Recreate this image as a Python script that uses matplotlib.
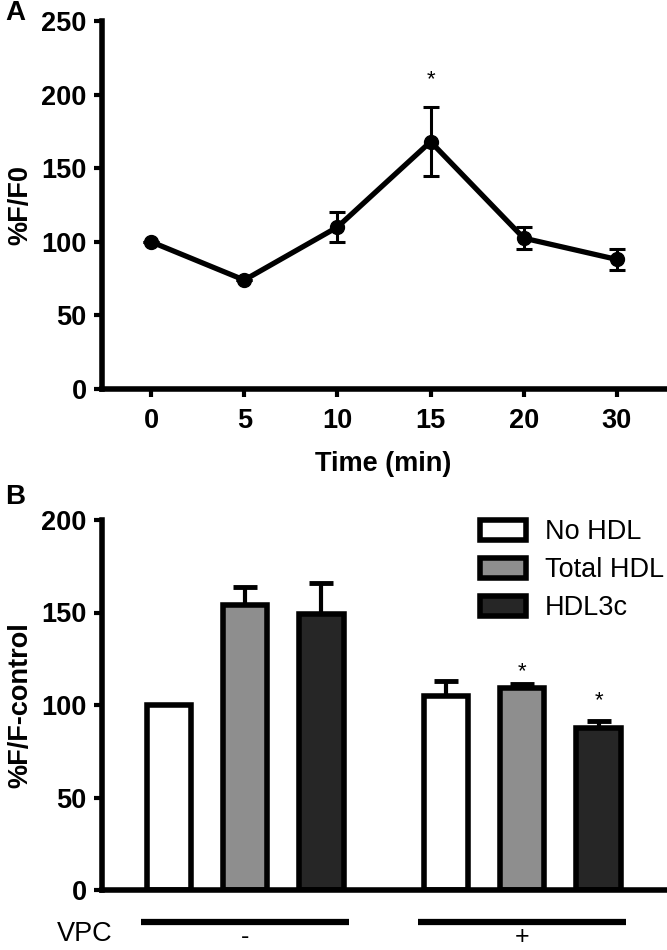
import numpy as np
import matplotlib
matplotlib.use('Agg')
import matplotlib.pyplot as plt
import matplotlib.transforms as mtransforms

plt.rcParams['font.family'] = ['Liberation Sans', 'DejaVu Sans']

# panel A data
TIME_LABELS = ['0', '5', '10', '15', '20', '30']
PCT_F_F0 = [100, 74, 110, 168, 102.5, 88]
PCT_F_F0_ERR = [0, 0, 10, 23.5, 7.5, 7]
STAR_A = [(3, 210)]

# panel B data
GROUPS = ['-', '+']
CONDITIONS = ['No HDL', 'Total HDL', 'HDL3c']
COND_COLORS = ['white', '#8e8e8e', '#262626']
PCT_F_CTRL = {
    'No HDL':    [100, 105],
    'Total HDL': [154, 109],
    'HDL3c':     [149, 87.5],
}
PCT_F_CTRL_ERR = {
    'No HDL':    [0, 8],
    'Total HDL': [9.6, 2.4],
    'HDL3c':     [17, 3.9],
}
STARS_B = [(1, 'Total HDL', 118), (1, 'HDL3c', 102.5)]

W, H = 667, 950
fig = plt.figure(figsize=(W / 100, H / 100), dpi=100)

SPINE_LW = 4.0
FS = 19.5


def style_axes(ax):
    for s in ['top', 'right']:
        ax.spines[s].set_visible(False)
    for s in ['left', 'bottom']:
        ax.spines[s].set_linewidth(SPINE_LW)
    ax.tick_params(width=3, length=6, labelsize=FS, pad=5)
    for lab in ax.get_yticklabels() + ax.get_xticklabels():
        lab.set_fontweight('bold')


# ---------- panel A ----------
axA = fig.add_axes([102 / W, 1 - 389 / H, 563 / W, (389 - 21) / H])
x = np.arange(len(TIME_LABELS))
axA.errorbar(x, PCT_F_F0, yerr=PCT_F_F0_ERR, color='black', lw=3.8,
             marker='o', ms=10, elinewidth=2.2, capsize=5.8, capthick=2.2,
             clip_on=False, zorder=3)
axA.set_xlim(-0.527, 5.516)
axA.set_ylim(0, 250)
axA.set_yticks([0, 50, 100, 150, 200, 250])
axA.set_xticks(x)
axA.set_xticklabels(TIME_LABELS)
style_axes(axA)
axA.tick_params(axis='x', pad=8)
axA.set_xlabel('Time (min)', fontsize=FS, fontweight='bold', labelpad=12)
axA.set_ylabel('%F/F0', fontsize=FS, fontweight='bold', labelpad=6)
for xi, yv in STAR_A:
    axA.text(xi, yv, '*', ha='center', va='center', fontsize=16)

# ---------- panel B ----------
axB = fig.add_axes([102 / W, 1 - 890 / H, 563 / W, 370 / H])
group_pos = np.array([0, 3.63])
offsets = [-1, 0, 1]
bar_w = 0.58
handles = []
for k, cond in enumerate(CONDITIONS):
    xs = group_pos + offsets[k]
    vals = PCT_F_CTRL[cond]
    errs = PCT_F_CTRL_ERR[cond]
    b = axB.bar(xs, vals, width=bar_w, color=COND_COLORS[k], edgecolor='black',
                linewidth=4, label=cond, zorder=2)
    handles.append(b)
    axB.errorbar(xs, vals, yerr=[np.zeros(len(errs)), errs], fmt='none',
                 ecolor='black', elinewidth=3, capsize=8.6, capthick=3.5, zorder=1)
axB.set_xlim(-1.874, 5.50)
axB.set_ylim(0, 200)
axB.set_yticks([0, 50, 100, 150, 200])
axB.set_xticks([])
style_axes(axB)
axB.set_ylabel('%F/F-control', fontsize=FS, fontweight='bold', labelpad=6)

for gi, cond, yv in STARS_B:
    k = CONDITIONS.index(cond)
    axB.text(group_pos[gi] + offsets[k], yv, '*', ha='center', va='center', fontsize=16)

trans = mtransforms.blended_transform_factory(axB.transData, axB.transAxes)
for gi, g in enumerate(GROUPS):
    c = group_pos[gi]
    axB.plot([c - 1.36, c + 1.36], [-0.0865, -0.0865], color='black', lw=4.5,
             transform=trans, clip_on=False, solid_capstyle='butt')
    axB.text(c, -0.126, g, transform=trans, ha='center', va='center', fontsize=18)
axB.text(-0.03, -0.12, 'VPC', transform=axB.transAxes, ha='center', va='center',
         fontsize=FS)

leg = axB.legend(handles=handles, loc='upper left',
                 bbox_to_anchor=(480 / W, 1 - 519 / H), bbox_transform=fig.transFigure,
                 frameon=False, fontsize=FS, handlelength=1.7, handleheight=0.76,
                 labelspacing=0.45, handletextpad=0.7, borderpad=0, borderaxespad=0)

fig.text(5 / W, 1 - 13 / H, 'A', fontsize=20, fontweight='bold', va='center')
fig.text(5 / W, 1 - 497 / H, 'B', fontsize=20, fontweight='bold', va='center')

fig.savefig('out.png', dpi=100)
